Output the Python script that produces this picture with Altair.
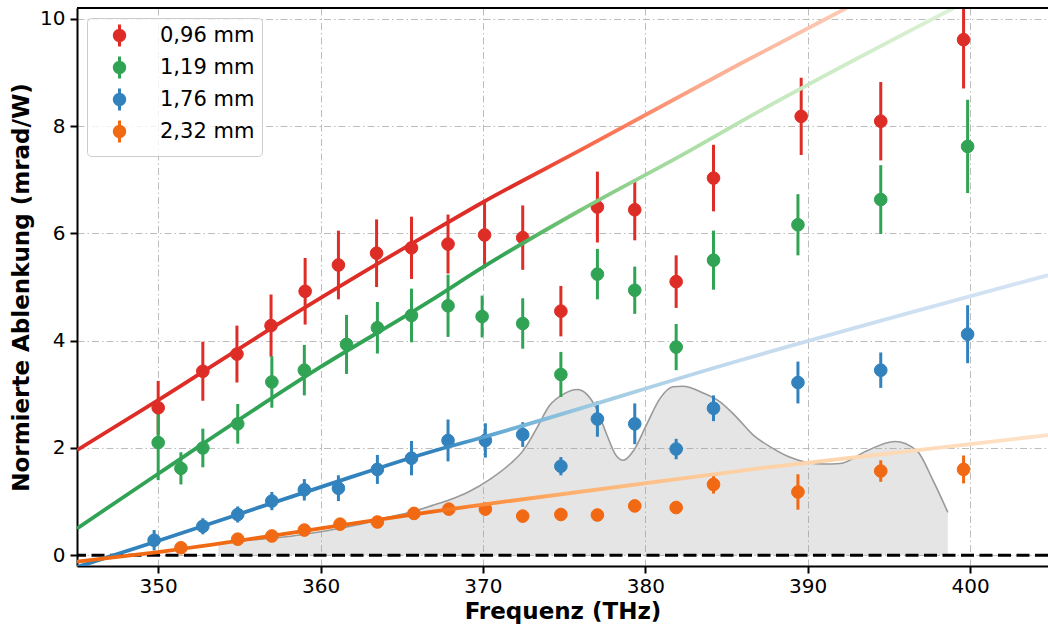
import altair as alt
import pandas as pd

# ---------------- data ----------------
series_labels = ["0,96 mm", "1,19 mm", "1,76 mm", "2,32 mm"]
series_colors = ["#de2d26", "#31a354", "#3182bd", "#f16913"]

red_f = [350.0, 352.75, 354.85, 356.95, 359.05, 361.1, 363.45, 365.6, 367.85, 370.1,
         372.45, 374.8, 377.05, 379.35, 381.9, 384.2, 389.6, 394.5, 399.6]
red_y = [2.75, 3.43, 3.75, 4.28, 4.92, 5.41, 5.63, 5.73, 5.80, 5.97,
         5.92, 4.55, 6.49, 6.44, 5.10, 7.03, 8.18, 8.09, 9.61]
red_e = [0.50, 0.55, 0.53, 0.58, 0.62, 0.64, 0.63, 0.58, 0.55, 0.62,
         0.60, 0.47, 0.66, 0.57, 0.49, 0.62, 0.72, 0.73, 0.91]

green_f = [350.0, 351.4, 352.75, 354.9, 357.0, 359.0, 361.6, 363.5, 365.6, 367.85,
           369.95, 372.45, 374.8, 377.05, 379.35, 381.9, 384.2, 389.4, 394.5, 399.85]
green_y = [2.10, 1.62, 2.00, 2.45, 3.23, 3.45, 3.93, 4.24, 4.47, 4.65,
           4.45, 4.32, 3.37, 5.24, 4.94, 3.88, 5.50, 6.16, 6.63, 7.62]
green_e = [0.70, 0.30, 0.36, 0.37, 0.48, 0.47, 0.55, 0.48, 0.50, 0.58,
           0.39, 0.47, 0.42, 0.47, 0.44, 0.43, 0.55, 0.57, 0.64, 0.87]

blue_f = [349.75, 352.75, 354.9, 357.0, 359.0, 361.1, 363.5, 365.6, 367.85, 370.15,
          372.45, 374.8, 377.05, 379.35, 381.9, 384.2, 389.4, 394.5, 399.85]
blue_y = [0.28, 0.54, 0.76, 1.01, 1.22, 1.25, 1.60, 1.81, 2.14, 2.14,
          2.25, 1.66, 2.54, 2.45, 1.98, 2.74, 3.22, 3.45, 4.12]
blue_e = [0.19, 0.15, 0.15, 0.17, 0.20, 0.24, 0.27, 0.32, 0.39, 0.32,
          0.23, 0.17, 0.33, 0.38, 0.19, 0.24, 0.39, 0.33, 0.54]

orange_f = [351.4, 354.9, 357.0, 359.0, 361.2, 363.5, 365.75, 367.9, 370.15,
            372.45, 374.8, 377.05, 379.35, 381.9, 384.2, 389.4, 394.5, 399.6]
orange_y = [0.14, 0.30, 0.36, 0.47, 0.58, 0.62, 0.78, 0.86, 0.86,
            0.73, 0.76, 0.75, 0.92, 0.89, 1.32, 1.18, 1.57, 1.60]
orange_e = [0.08, 0.07, 0.07, 0.08, 0.10, 0.09, 0.10, 0.11, 0.11,
            0.10, 0.10, 0.10, 0.10, 0.10, 0.17, 0.33, 0.20, 0.26]

# fit curves
red_fit_f = [345.0, 350.0, 357.6, 366.8, 370.0, 376.0, 385.9, 392.4]
red_fit_y = [1.96, 2.89, 4.35, 6.02, 6.58, 7.55, 9.17, 10.2]
green_fit_f = [345.0, 350.0, 360.0, 366.8, 370.0, 376.0, 382.8, 385.8, 399.0]
green_fit_y = [0.50, 1.52, 3.51, 4.75, 5.37, 6.43, 7.55, 8.07, 10.2]
blue_fit_f = [345.0, 349.5, 360.0, 366.8, 370.0, 385.8, 404.8]
blue_fit_y = [-0.22, 0.22, 1.27, 1.93, 2.20, 3.63, 5.22]
orange_fit_f = [345.0, 350.0, 360.0, 366.8, 371.1, 387.0, 404.8]
orange_fit_y = [-0.12, 0.06, 0.50, 0.81, 0.99, 1.62, 2.24]

# spectrum (grey shaded area)
spec_f = [353.7, 355.5, 357.7, 359.8, 362.0, 363.9, 365.5, 366.9, 368.0, 369.1,
          370.45, 371.7, 372.5, 373.3, 374.1, 375.0, 375.8, 376.4, 377.0, 377.6,
          378.2, 378.65, 379.3, 380.1, 380.9, 381.7, 382.3, 383.6, 384.6, 385.6,
          386.65, 387.7, 388.8, 389.96, 391.0, 391.99, 393.65, 395.37, 396.72,
          397.71, 398.63]
spec_y = [0.22, 0.28, 0.34, 0.43, 0.55, 0.69, 0.80, 0.93, 1.04, 1.18,
          1.42, 1.71, 1.96, 2.36, 2.79, 3.01, 3.09, 3.00, 2.73, 2.27,
          1.86, 1.77, 1.96, 2.45, 2.92, 3.14, 3.15, 3.02, 2.86, 2.58,
          2.24, 2.02, 1.84, 1.73, 1.70, 1.71, 1.95, 2.12, 1.95,
          1.40, 0.80]

x_ticks = [350, 360, 370, 380, 390, 400]
y_ticks = [0, 2, 4, 6, 8, 10]
x_domain = [345.0, 404.8]
y_domain = [-0.2, 10.2]

# ---------------- tables ----------------
rows = []
for lab, fs, ys_, es in [
    (series_labels[0], red_f, red_y, red_e),
    (series_labels[1], green_f, green_y, green_e),
    (series_labels[2], blue_f, blue_y, blue_e),
    (series_labels[3], orange_f, orange_y, orange_e),
]:
    for f, y, e in zip(fs, ys_, es):
        rows.append({"f": f, "y": y, "lo": y - e, "hi": y + e, "serie": lab})
pts = pd.DataFrame(rows)

spec = pd.DataFrame({"f": spec_f, "s": spec_y})
zero_df = pd.DataFrame({"y": [0]})
frame_df = pd.DataFrame({"k": [0]})

FONT = "DejaVu Sans"
W, H = 971, 558

xs = alt.Scale(domain=x_domain, nice=False, zero=False)
ys = alt.Scale(domain=y_domain, nice=False, zero=False)
cs = alt.Scale(domain=series_labels, range=series_colors)

x_axis = alt.Axis(values=x_ticks, title="Frequenz (THz)", grid=True)
y_axis = alt.Axis(values=y_ticks, title="Normierte Ablenkung (mrad/W)", grid=True)

legend = alt.Legend(
    title=None,
    orient="top-left",
    offset=10,
    padding=7,
    fillColor="rgba(255,255,255,0.8)",
    strokeColor="#cccccc",
    cornerRadius=4,
    labelFont=FONT,
    labelFontSize=21,
    labelColor="black",
    labelOffset=30,
    rowPadding=-3,
    symbolType="M-1,0A1,1,0,1,1,1,0A1,1,0,1,1,-1,0Z M0,-2.1L0,2.1",
    symbolSize=110,
    symbolStrokeWidth=3,
    symbolOffset=15,
    symbolOpacity=1,
)

area = alt.Chart(spec).mark_area(
    color="#999999", opacity=0.25, interpolate="monotone"
).encode(
    x=alt.X("f:Q", scale=xs, axis=x_axis),
    y=alt.Y("s:Q", scale=ys, axis=y_axis),
    y2=alt.datum(0),
)
area_line = alt.Chart(spec).mark_line(
    color="#999999", strokeWidth=1.6, interpolate="monotone"
).encode(x=alt.X("f:Q", scale=xs), y=alt.Y("s:Q", scale=ys))

zero_line = alt.Chart(zero_df).mark_rule(
    color="black", strokeWidth=3, strokeDash=[13, 5.5]
).encode(y=alt.Y("y:Q", scale=ys))


def grad(stops):
    return alt.Gradient(
        gradient="linear",
        stops=[alt.GradientStop(offset=o, color=c) for o, c in stops],
        x1=0, x2=1, y1=0, y2=0,
    )


fit_specs = [
    (red_fit_f, red_fit_y, [(0, "#de2d26"), (0.57, "#de2d26"), (0.67, "#fb6a4a"),
                            (0.82, "#fcae91"), (1, "#fdcab5")]),
    (green_fit_f, green_fit_y, [(0, "#31a354"), (0.48, "#31a354"), (0.56, "#74c476"),
                                (0.66, "#a1d99b"), (0.8, "#c7e9c0"), (1, "#dcf1d6")]),
    (blue_fit_f, blue_fit_y, [(0, "#3182bd"), (0.37, "#3182bd"), (0.44, "#6baed6"),
                              (0.53, "#9ecae1"), (0.69, "#c6dbef"), (1, "#d4e4f4")]),
    (orange_fit_f, orange_fit_y, [(0, "#f16913"), (0.36, "#f16913"), (0.42, "#fd8d3c"),
                                  (0.5, "#fdae6b"), (0.67, "#fdd0a2"), (1, "#fee2c8")]),
]
fit_layers = []
for ff, fy, stops in fit_specs:
    d = pd.DataFrame({"f": ff, "y": fy})
    fit_layers.append(
        alt.Chart(d).mark_line(
            color=grad(stops), strokeWidth=3.8, clip=True, interpolate="monotone"
        ).encode(x=alt.X("f:Q", scale=xs), y=alt.Y("y:Q", scale=ys))
    )

errbars = alt.Chart(pts).mark_rule(strokeWidth=3, clip=True).encode(
    x=alt.X("f:Q", scale=xs),
    y=alt.Y("lo:Q", scale=ys),
    y2="hi:Q",
    stroke=alt.Stroke("serie:N", scale=cs, legend=legend),
)
points = alt.Chart(pts).mark_circle(size=160, opacity=1, strokeWidth=1).encode(
    x=alt.X("f:Q", scale=xs),
    y=alt.Y("y:Q", scale=ys),
    fill=alt.Fill("serie:N", scale=cs, legend=legend),
    stroke=alt.Stroke("serie:N", scale=cs, legend=legend),
)

top_frame = alt.Chart(frame_df).mark_rule(color="black", strokeWidth=2).encode(
    y=alt.value(0)
)

chart = alt.layer(
    area, area_line, zero_line, errbars, points, *fit_layers, top_frame
).properties(
    width=W,
    height=H,
    autosize=alt.AutoSizeParams(type="none"),
    padding={"left": 77, "top": 8, "right": 0, "bottom": 58},
).configure_view(
    stroke=None
).configure_axis(
    labelFont=FONT,
    labelFontSize=20,
    labelColor="black",
    titleFont=FONT,
    titleFontSize=23,
    titleFontWeight="bold",
    titleColor="black",
    domainColor="black",
    domainWidth=2,
    tickColor="black",
    tickWidth=2,
    tickSize=7,
    gridColor="#b5b5b5",
    gridWidth=0.9,
    gridDash=[7, 3, 1.5, 3],
).configure_axisX(
    labelPadding=3, titlePadding=4
).configure_axisY(
    labelPadding=5, titlePadding=6
)

chart.save("out.html", embed_options={"renderer": "svg", "actions": False})
